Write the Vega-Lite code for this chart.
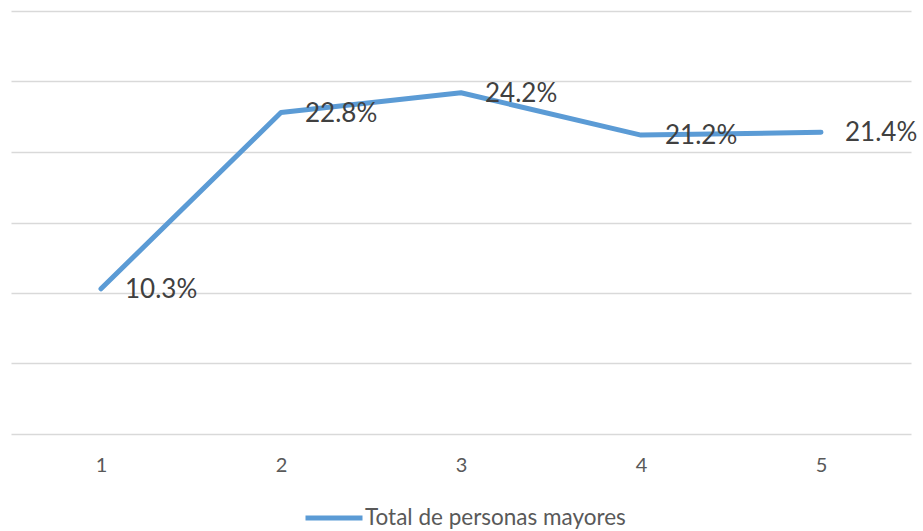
{
  "$schema": "https://vega.github.io/schema/vega-lite/v6.json",
  "autosize": {"type": "none"},
  "padding": {"left": 11, "top": 11, "right": 12, "bottom": 97},
  "width": 900,
  "height": 423,
  "background": "white",
  "config": {"view": {"stroke": null}, "font": "Lato"},
  "data": {"values": [
    {"x": "1", "v": 0.103, "s": "Total de personas mayores"},
    {"x": "2", "v": 0.228, "s": "Total de personas mayores"},
    {"x": "3", "v": 0.242, "s": "Total de personas mayores"},
    {"x": "4", "v": 0.212, "s": "Total de personas mayores"},
    {"x": "5", "v": 0.214, "s": "Total de personas mayores"}
  ]},
  "encoding": {
    "x": {"field": "x", "type": "ordinal", "scale": {"type": "point", "padding": 0.5},
      "axis": {"title": null, "labelAngle": 0, "domain": false, "ticks": false, "grid": false,
        "labelFont": "Lato", "labelFontSize": 20, "labelColor": "#595959", "labelPadding": 21}},
    "y": {"field": "v", "type": "quantitative", "scale": {"domain": [0, 0.3], "nice": false},
      "axis": {"title": null, "labels": false, "ticks": false, "domain": false, "values": [0, 0.05, 0.1, 0.15, 0.2, 0.25, 0.3],
        "gridColor": "#D9D9D9", "gridWidth": 1.5}}
  },
  "layer": [
    {"mark": {"type": "line", "strokeWidth": 5, "strokeCap": "round", "strokeJoin": "round"},
     "encoding": {"color": {"field": "s", "type": "nominal", "scale": {"range": ["#5B9BD5"]},
       "legend": {"title": null, "orient": "none", "legendX": 292, "legendY": 476, "symbolType": "stroke", "symbolSize": 3249,
         "symbolStrokeWidth": 5, "labelFont": "Lato", "labelFontSize": 22.5, "labelColor": "#595959", "labelOffset": 0, "labelLimit": 0}}}},
    {"mark": {"type": "text", "align": "left", "baseline": "middle", "dx": 24, "dy": 1, "fontSize": 26, "font": "Lato", "color": "#404040"},
     "encoding": {"text": {"field": "v", "type": "quantitative", "format": ".1%"}}}
  ]
}
